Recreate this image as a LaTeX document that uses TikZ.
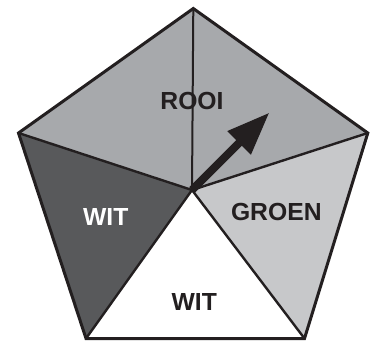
\documentclass[tikz,border=0pt]{standalone}
\usepackage{fontspec}
\setmainfont{Liberation Sans}
\usetikzlibrary{arrows.meta}
\definecolor{topgray}{HTML}{A7A9AC}
\definecolor{darkgray}{HTML}{58595B}
\definecolor{lightgray}{HTML}{C7C8CA}
\definecolor{ink}{HTML}{231F20}
\tikzset{
  x=1pt,y=-1pt,
  edge/.style={draw=ink,line width=2.4pt,line join=miter},
  outline/.style={draw=ink,line width=3pt,line join=miter},
  lbl/.style={font=\bfseries\fontsize{24.7}{28}\selectfont,inner sep=0pt,text=ink},
  pointer/.style={draw=ink,line width=8pt,-{Triangle[length=43pt,width=31pt]}}
}
\begin{document}
\begin{tikzpicture}
\useasboundingbox (0,0) rectangle (371,342);
\coordinate (T) at (193.3,8.5);
\coordinate (L) at (18.5,133);
\coordinate (R) at (367.8,133);
\coordinate (BL) at (86,338.5);
\coordinate (BR) at (304.5,338.5);
\coordinate (C) at (192,190);
\coordinate (tip) at (269.5,112.5);
\fill[topgray] (C) -- (L) -- (T) -- (R) -- cycle;
\fill[darkgray] (C) -- (L) -- (BL) -- cycle;
\fill[white] (C) -- (BL) -- (BR) -- cycle;
\fill[lightgray] (C) -- (BR) -- (R) -- cycle;
\draw[edge,line width=2pt] (T) -- (C);
\draw[edge] (L) -- (C) -- (R);
\draw[edge] (BL) -- (C) -- (BR);
\draw[outline] (T) -- (R) -- (BR) -- (BL) -- (L) -- cycle;
\node[lbl] (rooi) at (192,100.5) {ROOI};
\node[lbl,text=white] (wit1) at (105.7,216.7) {WIT};
\node[lbl] (groen) at (276.3,212) {GROEN};
\node[lbl] (wit2) at (194.3,302.3) {WIT};
\draw[pointer] (C) -- (tip);
\end{tikzpicture}
\end{document}
